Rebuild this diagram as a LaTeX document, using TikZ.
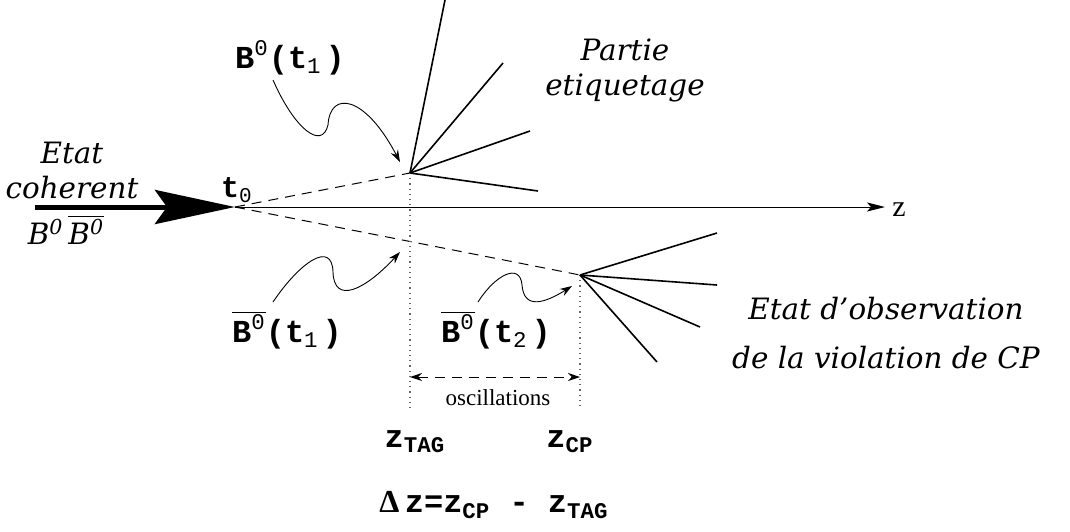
\documentclass[tikz,border=0pt]{standalone}
\usepackage{fontspec}
\setmonofont{Liberation Mono}
\newfontfamily\timesfont{Liberation Serif}
\newfontfamily\labfont{DejaVu Serif}
\usetikzlibrary{arrows.meta}

\newcommand\supz{\textsuperscript{\mdseries 0}}
\newcommand\subn[1]{\textsubscript{\mdseries #1}}

\begin{document}
\begin{tikzpicture}[
  x=0.5pt, y=-0.5pt,
  track/.style={line width=0.8pt},
  flight/.style={dash pattern=on 5pt off 3.5pt, line width=0.5pt},
  vmark/.style={dotted, line width=0.6pt, black!60},
  wavy/.style={-{Stealth[length=6pt,width=4pt]}, line width=0.45pt},
  state/.style={font=\labfont\fontsize{14.7}{17.5}\selectfont\itshape, align=center, inner sep=0pt},
  mono/.style={font=\fontsize{16}{18}\selectfont\ttfamily\bfseries, inner sep=0pt},
]
  \useasboundingbox (0,0) rectangle (1070,531);

  % vertices
  \coordinate (inc) at (35,207);
  \coordinate (t0) at (235,207);
  \coordinate (zend) at (885,207);
  \coordinate (vtag) at (410,173);
  \coordinate (vcp) at (580,275);
  \coordinate (tagfoot) at (410,408);
  \coordinate (cpfoot) at (580,408);
  \coordinate (osca) at (410,377);
  \coordinate (oscb) at (580,377);

  \draw[line width=2.5pt, -{Stealth[length=40pt,width=17pt,inset=6pt]}] (inc) -- (t0);
  \draw[line width=0.5pt, -{Stealth[length=9pt,width=4.5pt,inset=2pt]}] (t0) -- (zend);
  \node[font=\timesfont\fontsize{15}{15}\selectfont] (zlab) at (899,210) {z};

  \draw[flight] (t0) -- (vtag);
  \draw[flight] (t0) -- (vcp);
  \draw[vmark] (vtag) -- (tagfoot);
  \draw[vmark] (vcp) -- (cpfoot);

  \foreach \i/\x/\y in {1/445/0, 2/503/63, 3/530/131, 4/538/191}
    \draw[track] (vtag) -- (\x,\y) coordinate (tagtrk\i);
  \foreach \i/\x/\y in {1/717/233, 2/717/285, 3/700/327, 4/657/362}
    \draw[track] (vcp) -- (\x,\y) coordinate (cptrk\i);

  \draw[flight, {Stealth[length=6pt,width=4pt]}-{Stealth[length=6pt,width=4pt]}] (osca) -- (oscb);
  \node[font=\timesfont\fontsize{11.5}{12}\selectfont] (osc) at (498,398) {oscillations};

  % labels
  \node[state] (coh) at (72,170) {Etat\\coherent};
  \node[state] (bbbar) at (66,230) {B\supz\,$\overline{\hbox{B\supz}}$};
  \node[state] (tagging) at (625,70) {Partie\\etiquetage};
  \node[state] (obs) at (886,333) {Etat d’observation\\[7pt]de la violation de CP};

  \node[mono, font=\fontsize{15}{16}\selectfont\ttfamily\bfseries] (tlab) at (237,190) {t\subn{0}};
  \node[mono] (btag) at (290,58) {B\supz(t\subn{1}\kern2pt)};
  \node[mono] (bbartag) at (287,330) {$\overline{\hbox{B\supz}}$(t\subn{1}\kern2pt)};
  \node[mono] (bbarcp) at (496,330) {$\overline{\hbox{B\supz}}$(t\subn{2}\kern2pt)};
  \node[mono] (ztag) at (415,442) {z\textsubscript{TAG}};
  \node[mono] (zcp) at (570,442) {z\textsubscript{CP}};
  \node[mono] (dz) at (494,505) {{\timesfont Δ}\,z=z\textsubscript{CP} - z\textsubscript{TAG}};

  % oscillating paths
  \coordinate (w1s) at (273,80);
  \coordinate (w1e) at (400,162);
  \coordinate (w2s) at (273,302);
  \coordinate (w2e) at (400,252);
  \coordinate (w3s) at (478,302);
  \coordinate (w3e) at (572,286);
  \draw[wavy] (w1s) .. controls (295,130) and (322,150) .. (328,125)
    .. controls (330,90) and (365,95) .. (w1e);
  \draw[wavy] (w2s) .. controls (300,262) and (332,240) .. (333,272)
    .. controls (334,305) and (365,290) .. (w2e);
  \draw[wavy] (w3s) .. controls (495,275) and (520,262) .. (522,285)
    .. controls (524,310) and (545,303) .. (w3e);
\end{tikzpicture}
\end{document}
